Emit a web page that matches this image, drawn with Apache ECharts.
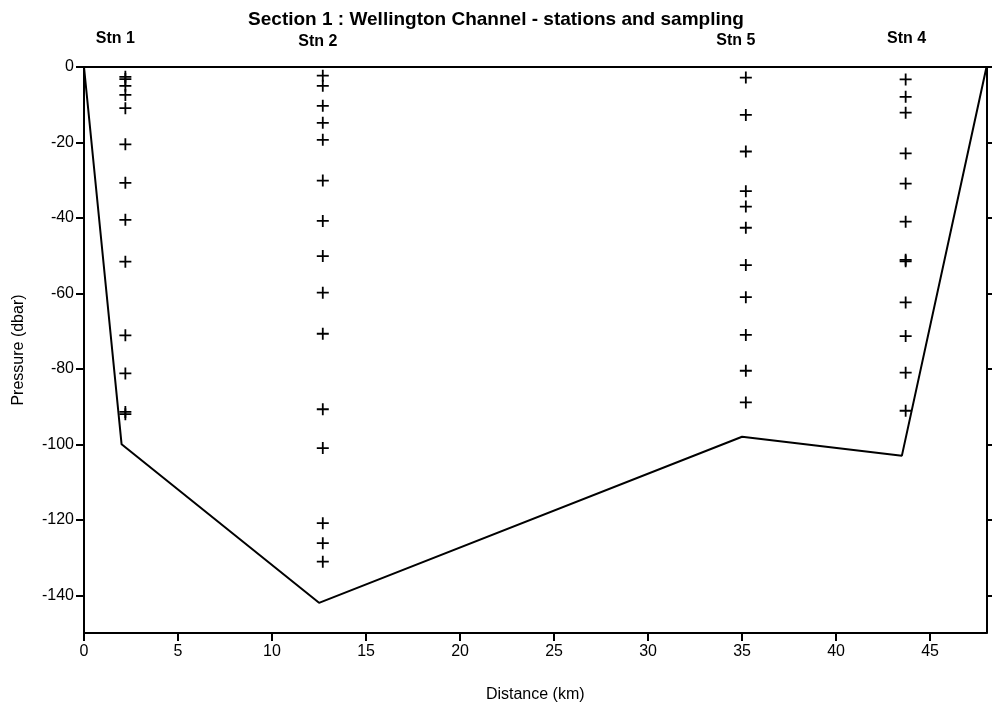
<!DOCTYPE html>
<html><head><meta charset="utf-8">
<script src="https://cdn.jsdelivr.net/npm/echarts@6/dist/echarts.min.js"></script>
<style>html,body{margin:0;padding:0;background:#fff}#c{width:992px;height:707px}</style>
</head><body><div id="c"></div>
<script>
// Station positions (km)
const stationNames = ['Stn 1', 'Stn 2', 'Stn 5', 'Stn 4'];
const stationX = [2.2, 12.7, 35.2, 43.7];
// Sampling pressures (dbar, negative = depth)
const stn1P = [-2.6, -3.2, -5.0, -7.4, -10.9, -20.5, -30.7, -40.5, -51.6, -71.1, -81.2, -91.4, -92.0];
const stn2P = [-2.3, -5.0, -10.3, -14.8, -19.3, -30.1, -40.8, -50.1, -59.8, -70.7, -90.7, -101.0, -120.9, -126.2, -131.1];
const stn5P = [-2.8, -12.7, -22.4, -32.9, -37.0, -42.6, -52.5, -61.0, -71.0, -80.5, -88.9];
const stn4P = [-3.3, -7.9, -12.1, -22.9, -30.9, -41.0, -51.1, -51.5, -62.4, -71.3, -81.0, -91.1];
// Bottom profile
const bottomX = [0, 2, 12.5, 35, 43.5, 48];
const bottomP = [0, -100, -142, -98, -103, 0];
// Tick labels
const xTicks = [0, 5, 10, 15, 20, 25, 30, 35, 40, 45];
const yTicks = [0, -20, -40, -60, -80, -100, -120, -140];

const allP = [stn1P, stn2P, stn5P, stn4P];
const samples = [];
allP.forEach((arr, i) => arr.forEach(p => samples.push([stationX[i], p])));
const bottom = bottomX.map((x, i) => [x, bottomP[i]]);

const font = 'Liberation Sans, Arial, sans-serif';
const plus = 'path://M5.1,0 H6.9 V5.1 H12 V6.9 H6.9 V12 H5.1 V6.9 H0 V5.1 H5.1 Z';

const chart = echarts.init(document.getElementById('c'), null, {renderer: 'canvas'});
const axisLine = {show: true, onZero: false, lineStyle: {color: '#000', width: 2}};
const tick = (len, vals) => ({show: true, length: len, customValues: vals, lineStyle: {color: '#000', width: 2}});
chart.setOption({
  animation: false,
  backgroundColor: '#fff',
  title: {
    text: 'Section 1 : Wellington Channel - stations and sampling',
    left: 'center', top: 5,
    textStyle: {fontFamily: font, fontSize: 19, fontWeight: 'bold', color: '#000'}
  },
  grid: {left: 84, right: 5.5, top: 67, bottom: 74, containLabel: false, outerBoundsMode: 'none'},
  xAxis: [{
    type: 'value', min: 0, max: 48, position: 'bottom',
    name: 'Distance (km)', nameLocation: 'middle', nameGap: 54,
    nameTextStyle: {fontFamily: font, fontSize: 16, color: '#000'},
    axisLine: axisLine, axisTick: tick(8, xTicks),
    axisLabel: {fontFamily: font, fontSize: 16, color: '#000', margin: 11, customValues: xTicks},
    splitLine: {show: false}
  }, {
    type: 'value', min: 0, max: 48, position: 'top',
    axisLine: axisLine, axisTick: {show: false}, axisLabel: {show: false}, splitLine: {show: false}
  }],
  yAxis: [{
    type: 'value', min: -150, max: 0, position: 'left',
    name: 'Pressure (dbar)', nameLocation: 'middle', nameGap: 57, nameRotate: 90,
    nameTextStyle: {fontFamily: font, fontSize: 16, color: '#000'},
    axisLine: axisLine, axisTick: tick(8, yTicks),
    axisLabel: {fontFamily: font, fontSize: 16, color: '#000', margin: 10, customValues: yTicks},
    splitLine: {show: false}
  }, {
    type: 'value', min: -150, max: 0, position: 'right',
    axisLine: axisLine, axisTick: tick(6, yTicks),
    axisLabel: {show: false}, splitLine: {show: false}
  }],
  series: [{
    type: 'line', data: bottom, xAxisIndex: 0, yAxisIndex: 0,
    symbol: 'none', lineStyle: {color: '#000', width: 2}, silent: true
  }, {
    type: 'scatter', data: samples, xAxisIndex: 0, yAxisIndex: 0,
    symbol: plus, symbolSize: 12, itemStyle: {color: '#000', opacity: 1}, silent: true
  }]
});

// Station labels above the plot, placed through the x scale
const labelOffsets = [-10, -5, -10, 1];
const labelY = [39, 42, 41, 39];
chart.setOption({
  graphic: stationNames.map((n, i) => ({
    type: 'text',
    x: chart.convertToPixel({xAxisIndex: 0}, stationX[i]) + labelOffsets[i],
    y: labelY[i],
    style: {text: n, fontFamily: font, fontSize: 16, fontWeight: 'bold', fill: '#000',
            textAlign: 'center', textVerticalAlign: 'middle', verticalAlign: 'middle'}
  }))
});
</script></body></html>
